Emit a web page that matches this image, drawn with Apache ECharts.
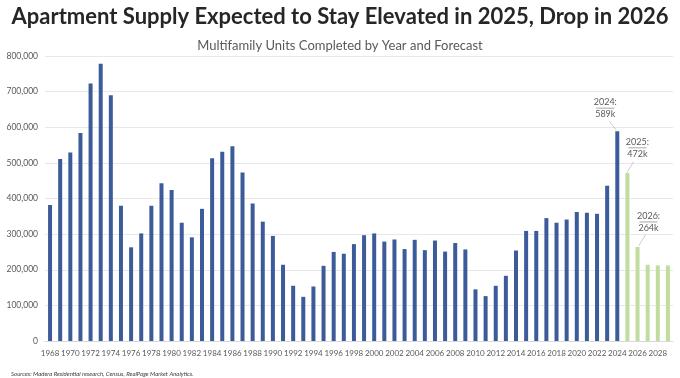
<!DOCTYPE html>
<html>
<head>
<meta charset="utf-8">
<script src="https://cdn.jsdelivr.net/npm/echarts@6/dist/echarts.min.js"></script>
<style>
html,body{margin:0;padding:0;background:#fff;}
#chart{width:680px;height:378px;}
</style>
</head>
<body>
<div id="chart"></div>
<script>
// ---- data ----
var years = [];
for (var y = 1968; y <= 2029; y++) years.push(String(y));
var actualValues = [382000, 511000, 529000, 584000, 723000, 778000, 690000, 380000, 263000, 302000,
  380000, 443000, 424000, 332000, 291000, 371000, 513000, 531000, 547000, 473000,
  386000, 335000, 295000, 214000, 155000, 124000, 153000, 211000, 250000, 245000,
  272000, 297000, 302000, 279000, 285000, 258000, 284000, 255000, 282000, 251000,
  275000, 257000, 145000, 126000, 155000, 183000, 254000, 309000, 309000, 345000,
  332000, 341000, 362000, 360000, 357000, 436000, 589000];
var forecastValues = [472000, 264000, 214000, 212000, 212000];
var annotations = [
  {year: '2024', line1: '2024:', line2: '589k'},
  {year: '2025', line1: '2025:', line2: '472k'},
  {year: '2026', line1: '2026:', line2: '264k'}
];

var BLUE = '#3C5B9B', GREEN = '#BFDE9D';
var seriesData = actualValues.map(function (v) { return {value: v, itemStyle: {color: BLUE}}; })
  .concat(forecastValues.map(function (v) { return {value: v, itemStyle: {color: GREEN}}; }));

var AXIS_FONT = 'Lato';
var chart = echarts.init(document.getElementById('chart'));
chart.setOption({
  animation: false,
  backgroundColor: '#fff',
  title: [{
    text: 'Apartment Supply Expected to Stay Elevated in 2025, Drop in 2026',
    left: 'center', top: 1,
    textStyle: {fontFamily: 'Lato', fontWeight: 'bold', fontSize: 22, color: '#262626'}
  }, {
    text: 'Multifamily Units Completed by Year and Forecast',
    left: 'center', top: 34,
    textStyle: {fontFamily: 'Lato', fontWeight: 'normal', fontSize: 13, color: '#595959'}
  }, {
    text: 'Sources: Madera Residential research, Census, RealPage Market Analytics.',
    left: 6, top: 366,
    textStyle: {fontFamily: 'Lato', fontStyle: 'italic', fontWeight: 'normal', fontSize: 6, color: '#404040'}
  }],
  grid: {left: 45, right: 7, top: 56, bottom: 37},
  xAxis: {
    type: 'category', data: years,
    axisLine: {lineStyle: {color: '#d9d9d9'}},
    axisTick: {show: false},
    axisLabel: {interval: 1, showMinLabel: true, showMaxLabel: true, hideOverlap: false,
      color: '#595959', fontFamily: AXIS_FONT, fontSize: 8, margin: 8,
      formatter: function (v) { return v === '2029' ? '' : v; }}
  },
  yAxis: {
    type: 'value', min: 0, max: 800000, interval: 100000,
    axisLine: {show: false}, axisTick: {show: false},
    splitLine: {lineStyle: {color: '#e8e8e8'}},
    axisLabel: {color: '#595959', fontFamily: AXIS_FONT, fontSize: 8.5, margin: 7,
      formatter: function (v) { return v.toLocaleString('en-US'); }}
  },
  series: [{
    type: 'bar', data: seriesData, barWidth: 4
  }]
});

// annotations with leader lines
var offsets = {
  '2024': {tx: -12, ty: -29, lx1: -1, ly1: -1, lx2: -8, ly2: -10},
  '2025': {tx: 10, ty: -31, lx1: 0, ly1: -1, lx2: 6, ly2: -11},
  '2026': {tx: 11, ty: -31, lx1: 1, ly1: -1, lx2: 8, ly2: -12}
};
var graphics = [];
annotations.forEach(function (a) {
  var idx = years.indexOf(a.year);
  var val = seriesData[idx].value;
  var p = chart.convertToPixel({seriesIndex: 0}, [idx, val]);
  var o = offsets[a.year];
  var cx = p[0] + o.tx, cy = p[1] + o.ty;
  graphics.push({type: 'text', x: cx, y: cy, style: {text: a.line1, font: '9px ' + AXIS_FONT, fill: '#595959', textAlign: 'center', textVerticalAlign: 'middle'}});
  graphics.push({type: 'line', shape: {x1: cx - 9, y1: cy + 6, x2: cx + 9, y2: cy + 6}, style: {stroke: '#7f7f7f', lineWidth: 0.7}});
  graphics.push({type: 'text', x: cx, y: cy + 12, style: {text: a.line2, font: '9px ' + AXIS_FONT, fill: '#595959', textAlign: 'center', textVerticalAlign: 'middle'}});
  graphics.push({type: 'line', shape: {x1: p[0] + o.lx1, y1: p[1] + o.ly1, x2: p[0] + o.lx2, y2: p[1] + o.ly2}, style: {stroke: '#bfbfbf', lineWidth: 0.8}});
});
chart.setOption({graphic: graphics});
</script>
</body>
</html>
